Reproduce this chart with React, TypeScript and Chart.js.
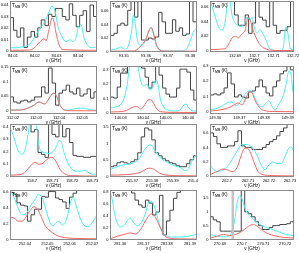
import { useEffect, useRef } from "react";
import { Chart, registerables } from "chart.js";
Chart.register(...registerables);

type P = [number, number];

// ---------- panel 1 ----------
const p1XTicks = [84.01, 84.02, 84.03, 84.04];
const p1YTicks = [0, 0.01, 0.02, 0.03, 0.04];
const p1Obs: P[] = [[84.0086,0.029],[84.0102,0.018],[84.0118,0.012],[84.0134,0.02],[84.015,0.003],[84.0166,0.012],[84.0183,0.017],[84.0199,0.012],[84.0214,0.02],[84.023,0.027],[84.0247,0.022],[84.0263,0.032],[84.0279,0.03],[84.0295,0.037],[84.0311,0.037],[84.0327,0.03],[84.0343,0.027],[84.0359,0.041],[84.0375,0.031],[84.0391,0.021],[84.0407,0.031],[84.0423,0.035],[84.0439,0.017],[84.0455,0.04],[84.0471,0.03],[84.0487,0.03]];
const p1Cyan: P[] = [[84.0086,0.0027],[84.0118,0.0027],[84.0141,0.0035],[84.0165,0.0044],[84.0183,0.0071],[84.0201,0.0124],[84.022,0.0186],[84.0238,0.023],[84.0252,0.0274],[84.0266,0.0345],[84.028,0.039],[84.0294,0.0345],[84.0307,0.0212],[84.0326,0.0124],[84.0344,0.008],[84.0363,0.0097],[84.0377,0.008],[84.039,0.0115],[84.0404,0.0221],[84.0413,0.023],[84.0427,0.0115],[84.0446,0.0044],[84.0464,0.0027],[84.0487,0.0035]];
const p1Red: P[] = [[84.0086,0.0005],[84.017,0.0007],[84.0192,0.0018],[84.0215,0.006],[84.0234,0.0097],[84.0243,0.0106],[84.0252,0.0088],[84.0266,0.0186],[84.028,0.029],[84.0289,0.0257],[84.0298,0.016],[84.0312,0.0053],[84.0331,0.001],[84.0487,0.0005]];

// ---------- panel 2 ----------
const p2XTicks = [93.35, 93.36, 93.37, 93.38];
const p2YTicks = [0, 0.02, 0.04, 0.06];
const p2Obs: P[] = [[93.344,0.024],[93.3456,0.027],[93.3471,0.039],[93.3487,0.042],[93.3502,0.039],[93.3518,0.061],[93.3533,0.08],[93.3549,0.051],[93.3564,0.08],[93.358,0.017],[93.3595,0.017],[93.3611,0.02],[93.3627,0.0185],[93.3642,0.0215],[93.3658,0.058],[93.3673,0.044],[93.3689,0.027],[93.3704,0.027],[93.372,0.047],[93.3735,0.03],[93.3751,0.035],[93.3766,0.024],[93.3782,0.026],[93.3797,0.08],[93.3813,0.044],[93.3831,0.044]];
const p2Cyan: P[] = [[93.344,0.0022],[93.3464,0.0037],[93.3487,0.0067],[93.3504,0.0037],[93.3522,0.0096],[93.3536,0.0318],[93.3544,0.054],[93.3553,0.039],[93.3562,0.017],[93.3576,0.0096],[93.3589,0.011],[93.3602,0.02],[93.3616,0.0318],[93.3624,0.0348],[93.3633,0.027],[93.3647,0.0096],[93.3664,0.0022],[93.3709,0.0007],[93.3753,0.0007],[93.378,0.0022],[93.3793,0.0096],[93.3807,0.022],[93.3816,0.03],[93.3831,0.035]];
const p2Red: P[] = [[93.344,0.0005],[93.354,0.0008],[93.3558,0.0022],[93.3576,0.008],[93.3589,0.0126],[93.3602,0.02],[93.3616,0.033],[93.3624,0.036],[93.3633,0.029],[93.3647,0.011],[93.3664,0.002],[93.3686,0.0006],[93.3831,0.0005]];

// ---------- panel 3 ----------
const p3XTicks = [132.69, 132.7, 132.71, 132.72];
const p3YTicks = [0, 0.02, 0.04, 0.06];
const p3Obs: P[] = [[132.677,0.09],[132.6897,0.049],[132.6916,0.035],[132.6934,0.035],[132.6952,0.049],[132.697,0.024],[132.6988,0.038],[132.7006,0.09],[132.7024,0.046],[132.7042,0.042],[132.7061,0.033],[132.7079,0.09],[132.7097,0.035],[132.7115,0.024],[132.7133,0.028],[132.7151,0.028],[132.7169,0.033],[132.7187,0.09],[132.7205,0.09]];
const p3Cyan: P[] = [[132.677,0.07],[132.6786,0.056],[132.6802,0.042],[132.6817,0.031],[132.6833,0.0286],[132.6848,0.039],[132.6859,0.0626],[132.6864,0.072],[132.6874,0.067],[132.6884,0.049],[132.69,0.038],[132.6916,0.035],[132.6931,0.033],[132.6947,0.037],[132.6962,0.046],[132.6978,0.042],[132.6988,0.046],[132.6998,0.033],[132.7014,0.0245],[132.703,0.0286],[132.7045,0.023],[132.706,0.015],[132.7076,0.004],[132.7092,0.0014],[132.7133,0.0003],[132.7149,0.004],[132.7159,0.0286],[132.7164,0.033],[132.7175,0.0218],[132.7185,0.004],[132.7205,0.0014]];
const p3Red: P[] = [[132.677,0.002],[132.6848,0.003],[132.6864,0.008],[132.6884,0.0177],[132.69,0.02],[132.6916,0.0177],[132.6931,0.022],[132.6952,0.0286],[132.6967,0.046],[132.6978,0.042],[132.6993,0.0286],[132.7014,0.015],[132.7035,0.0068],[132.706,0.0027],[132.7107,0.0007],[132.7205,0.0005]];

// ---------- panel 4 ----------
const p4XTicks = [112.02, 112.03, 112.04, 112.05];
const p4YTicks = [0, 0.05, 0.1, 0.15];
const p4Obs: P[] = [[112.0187,0.048],[112.0202,0.031],[112.0217,0.027],[112.0233,0.034],[112.0248,0.037],[112.0263,0.031],[112.0278,0.037],[112.0294,0.048],[112.0309,0.048],[112.0324,0.082],[112.0339,0.061],[112.0354,0.146],[112.037,0.095],[112.0385,0.02],[112.04,0.061],[112.0415,0.071],[112.0431,0.088],[112.0446,0.065],[112.0461,0.058],[112.0476,0.078],[112.0491,0.051],[112.0507,0.058],[112.0522,0.075],[112.0537,0.044],[112.0552,0.065],[112.0565,0.065]];
const p4Cyan: P[] = [[112.0187,0.0034],[112.023,0.0034],[112.0265,0.01],[112.0291,0.02],[112.0313,0.031],[112.0326,0.027],[112.0339,0.024],[112.0352,0.037],[112.037,0.058],[112.0378,0.061],[112.0391,0.048],[112.0404,0.02],[112.0422,0.0045],[112.0439,0.0034],[112.0461,0.0068],[112.0483,0.01],[112.0504,0.01],[112.0526,0.0068],[112.0544,0.0034],[112.0565,0.0034]];
const p4Red: P[] = [[112.0187,0.0034],[112.023,0.0034],[112.0265,0.01],[112.0291,0.02],[112.0313,0.031],[112.0326,0.027],[112.0339,0.024],[112.0352,0.037],[112.037,0.058],[112.0378,0.061],[112.0391,0.048],[112.0404,0.02],[112.0422,0.0034],[112.0448,0.001],[112.0565,0.001]];

// ---------- panel 5 ----------
const p5XTicks = [140.03, 140.04, 140.05, 140.06];
const p5YTicks = [0, 0.1, 0.2, 0.3];
const p5Obs: P[] = [[140.0253,0.11],[140.0269,0.103],[140.0285,0.18],[140.03,0.278],[140.0316,0.278],[140.0331,0.4],[140.0347,0.4],[140.0362,0.4],[140.0378,0.4],[140.0393,0.313],[140.0409,0.25],[140.0424,0.173],[140.044,0.215],[140.0456,0.4],[140.0471,0.264],[140.0487,0.173],[140.0502,0.131],[140.0518,0.11],[140.0533,0.11],[140.0549,0.173],[140.0564,0.306],[140.058,0.306],[140.0595,0.285],[140.0611,0.159],[140.0626,0.089],[140.064,0.089]];
const p5Cyan: P[] = [[140.0253,0.033],[140.0276,0.04],[140.0298,0.054],[140.0316,0.103],[140.0329,0.194],[140.0338,0.3],[140.0345,0.38],[140.037,0.38],[140.0382,0.285],[140.0391,0.215],[140.0404,0.187],[140.0418,0.2],[140.0431,0.159],[140.0444,0.18],[140.0458,0.229],[140.0467,0.194],[140.0476,0.103],[140.0489,0.047],[140.0511,0.019],[140.0542,0.012],[140.0564,0.019],[140.0582,0.054],[140.0591,0.061],[140.0604,0.033],[140.0622,0.012],[140.064,0.012]];
const p5Red: P[] = [[140.0253,0.005],[140.032,0.012],[140.0347,0.033],[140.0364,0.043],[140.0378,0.04],[140.0391,0.026],[140.0404,0.047],[140.0422,0.089],[140.0431,0.092],[140.0444,0.075],[140.0458,0.033],[140.0476,0.008],[140.052,0.003],[140.064,0.0015]];

// ---------- panel 6 ----------
const p6XTicks = [149.36, 149.37, 149.38, 149.39];
const p6YTicks = [0, 0.1, 0.2, 0.3];
const p6Obs: P[] = [[149.3579,0.111],[149.3594,0.118],[149.3608,0.111],[149.3623,0.124],[149.3637,0.157],[149.3651,0.255],[149.3666,0.183],[149.368,0.098],[149.3695,0.111],[149.3709,0.098],[149.3723,0.092],[149.3738,0.131],[149.3752,0.137],[149.3766,0.164],[149.3781,0.209],[149.3795,0.164],[149.381,0.124],[149.3824,0.105],[149.3838,0.164],[149.3853,0.203],[149.3867,0.249],[149.3882,0.268],[149.3896,0.31],[149.391,0.275],[149.3925,0.275]];
const p6Cyan: P[] = [[149.3579,0.013],[149.36,0.02],[149.362,0.033],[149.3641,0.052],[149.3658,0.065],[149.367,0.065],[149.3686,0.039],[149.3703,0.065],[149.3719,0.105],[149.3736,0.137],[149.3748,0.137],[149.376,0.105],[149.3777,0.052],[149.3793,0.033],[149.381,0.059],[149.3822,0.072],[149.3834,0.039],[149.3847,0.013],[149.3863,0.052],[149.388,0.105],[149.3892,0.177],[149.3904,0.268],[149.3912,0.249],[149.392,0.144],[149.3925,0.111]];
const p6Red: P[] = [[149.3579,0.0065],[149.362,0.013],[149.3653,0.026],[149.3678,0.046],[149.3695,0.059],[149.3711,0.046],[149.3727,0.092],[149.374,0.131],[149.3752,0.124],[149.3764,0.078],[149.3781,0.033],[149.3801,0.01],[149.3847,0.003],[149.3925,0.002]];

// ---------- panel 7 ----------
const p7XTicks = [158.7, 158.71, 158.72, 158.73];
const p7YTicks = [0, 0.1, 0.2, 0.3, 0.4];
const p7Obs: P[] = [[158.689,0.5],[158.6995,0.36],[158.7013,0.38],[158.703,0.194],[158.7048,0.178],[158.7065,0.154],[158.7083,0.5],[158.71,0.34],[158.7118,0.32],[158.7135,0.5],[158.7153,0.32],[158.717,0.386],[158.7188,0.274],[158.7205,0.17],[158.7223,0.162],[158.724,0.162],[158.7258,0.154],[158.7275,0.154],[158.7293,0.162],[158.731,0.162],[158.7325,0.162]];
const p7Cyan: P[] = [[158.689,0.394],[158.6905,0.338],[158.692,0.258],[158.6935,0.194],[158.695,0.178],[158.6965,0.218],[158.698,0.338],[158.699,0.45],[158.702,0.45],[158.703,0.298],[158.704,0.218],[158.706,0.194],[158.708,0.186],[158.71,0.194],[158.712,0.234],[158.7135,0.29],[158.7145,0.282],[158.716,0.194],[158.718,0.106],[158.72,0.058],[158.722,0.042],[158.724,0.042],[158.7265,0.05],[158.728,0.034],[158.73,0.018],[158.7325,0.018]];
const p7Red: P[] = [[158.689,0.01],[158.694,0.014],[158.697,0.042],[158.6995,0.09],[158.7015,0.114],[158.7035,0.098],[158.7055,0.106],[158.7075,0.138],[158.71,0.154],[158.712,0.122],[158.714,0.058],[158.7165,0.018],[158.72,0.006],[158.7325,0.002]];

// ---------- panel 8 ----------
const p8XTicks = [255.37, 255.38, 255.39, 255.4];
const p8YTicks = [0, 0.5, 1, 1.5];
const p8Obs: P[] = [[255.3593,0.3],[255.361,0.33],[255.3627,0.42],[255.3644,0.45],[255.3661,0.42],[255.3678,0.39],[255.3695,0.45],[255.3712,0.51],[255.3729,0.72],[255.3746,1.2],[255.3763,1.47],[255.3781,1.41],[255.3798,1.11],[255.3815,0.72],[255.3832,0.63],[255.3849,0.54],[255.3866,0.48],[255.3883,0.42],[255.39,0.39],[255.3917,0.33],[255.3934,0.3],[255.3951,0.3],[255.3968,0.39],[255.3985,0.51],[255.4003,0.63],[255.402,0.63]];
const p8Cyan: P[] = [[255.3593,0.21],[255.3627,0.3],[255.3661,0.36],[255.369,0.39],[255.372,0.45],[255.3739,0.57],[255.3759,0.78],[255.3778,0.93],[255.3793,0.96],[255.3807,0.87],[255.3827,0.66],[255.3846,0.54],[255.3876,0.42],[255.391,0.33],[255.3939,0.27],[255.3963,0.18],[255.3978,0.24],[255.3998,0.51],[255.402,0.69]];
const p8Red: P[] = [[255.3593,0.045],[255.3666,0.06],[255.3715,0.09],[255.3749,0.15],[255.3773,0.24],[255.3793,0.255],[255.3812,0.21],[255.3837,0.105],[255.3871,0.045],[255.3934,0.03],[255.402,0.024]];

// ---------- panel 9 ----------
const p9XTicks = [262.7, 262.71, 262.72, 262.73];
const p9YTicks = [0, 0.2, 0.4, 0.6];
const p9Obs: P[] = [[262.6919,0.6],[262.6936,0.55],[262.6952,0.45],[262.6969,0.4],[262.6986,0.4],[262.7002,0.42],[262.7019,0.42],[262.7036,0.48],[262.7052,0.63],[262.7069,0.42],[262.7086,0.4],[262.7102,0.4],[262.7119,0.37],[262.7136,0.37],[262.7152,0.37],[262.7169,0.4],[262.7186,0.44],[262.7202,0.48],[262.7219,0.51],[262.7236,0.56],[262.7252,0.62],[262.7269,0.67],[262.7286,0.73],[262.7302,0.75],[262.7319,0.75]];
const p9Cyan: P[] = [[262.6919,0.16],[262.6938,0.09],[262.6957,0.065],[262.6976,0.08],[262.7,0.13],[262.7024,0.23],[262.7048,0.35],[262.7071,0.44],[262.7095,0.44],[262.7119,0.4],[262.7143,0.29],[262.7162,0.16],[262.7181,0.09],[262.72,0.16],[262.7219,0.2],[262.7238,0.175],[262.7257,0.175],[262.7276,0.27],[262.729,0.37],[262.7305,0.41],[262.7319,0.34]];
const p9Red: P[] = [[262.6919,0.023],[262.6952,0.065],[262.6981,0.1],[262.7,0.09],[262.7024,0.065],[262.7048,0.12],[262.7067,0.285],[262.7081,0.38],[262.7095,0.39],[262.711,0.34],[262.7129,0.19],[262.7148,0.065],[262.7171,0.023],[262.7214,0.01],[262.7319,0.005]];

// ---------- panel 10 ----------
const p10XTicks = [252.04, 252.05, 252.06, 252.07];
const p10YTicks = [0, 0.2, 0.4, 0.6];
const p10Obs: P[] = [[252.0333,0.59],[252.0348,0.57],[252.0364,0.46],[252.038,0.43],[252.0396,0.42],[252.0411,0.23],[252.0427,0.31],[252.0443,0.38],[252.0458,0.38],[252.0474,0.54],[252.049,0.53],[252.0505,0.6],[252.0521,0.6],[252.0537,0.52],[252.0552,0.5],[252.0568,0.47],[252.0584,0.39],[252.0599,0.53],[252.0615,0.58],[252.0631,0.64],[252.0646,0.64],[252.0662,0.65],[252.0678,0.64],[252.0693,0.64],[252.0709,0.64],[252.0722,0.64]];
const p10Cyan: P[] = [[252.0333,0.62],[252.0346,0.56],[252.0364,0.43],[252.0378,0.34],[252.0391,0.31],[252.0409,0.34],[252.0427,0.43],[252.0445,0.5],[252.0458,0.56],[252.0476,0.53],[252.0494,0.37],[252.0512,0.21],[252.0525,0.17],[252.0539,0.21],[252.0552,0.23],[252.0566,0.18],[252.058,0.21],[252.0593,0.33],[252.0606,0.49],[252.0615,0.53],[252.0628,0.43],[252.0646,0.27],[252.0664,0.18],[252.0682,0.16],[252.07,0.21],[252.0722,0.31]];
const p10Red: P[] = [[252.0333,0.28],[252.0351,0.27],[252.0369,0.23],[252.0387,0.23],[252.0404,0.28],[252.0422,0.36],[252.044,0.41],[252.0454,0.39],[252.0472,0.29],[252.0489,0.18],[252.0512,0.11],[252.0539,0.056],[252.0575,0.025],[252.0646,0.0125],[252.0722,0.009]];

// ---------- panel 11 ----------
const p11XTicks = [281.36, 281.37, 281.38, 281.39];
const p11YTicks = [0, 0.2, 0.4, 0.6, 0.8];
const p11Obs: P[] = [[281.3557,1.0],[281.3649,0.78],[281.3664,0.66],[281.3679,0.58],[281.3694,0.54],[281.3709,0.66],[281.3724,0.61],[281.3739,0.41],[281.3754,0.46],[281.3769,0.74],[281.3784,0.075],[281.3799,0.31],[281.3814,0.49],[281.3829,0.69],[281.3844,0.79],[281.3859,1.0],[281.393,1.0]];
const p11Cyan: P[] = [[281.3557,0.81],[281.3567,0.66],[281.3576,0.44],[281.3588,0.28],[281.3601,0.21],[281.3618,0.24],[281.3636,0.34],[281.3644,0.36],[281.3657,0.29],[281.3674,0.23],[281.3691,0.28],[281.3709,0.44],[281.3721,0.61],[281.3734,0.64],[281.3747,0.56],[281.376,0.38],[281.3777,0.16],[281.3794,0.075],[281.3816,0.04],[281.3859,0.04],[281.3902,0.06],[281.393,0.09]];
const p11Red: P[] = [[281.3557,0.01],[281.3593,0.06],[281.3623,0.09],[281.3644,0.11],[281.3666,0.09],[281.3687,0.16],[281.3709,0.31],[281.3726,0.41],[281.3739,0.43],[281.3751,0.38],[281.3769,0.23],[281.3786,0.09],[281.3807,0.025],[281.3859,0.008],[281.393,0.005]];

// ---------- panel 12 ----------
const p12XTicks = [270.69, 270.7, 270.71, 270.72];
const p12YTicks = [0, 0.5, 1, 1.5];
const p12Obs: P[] = [[270.6852,0.82],[270.6869,0.71],[270.6885,0.64],[270.6901,0.3],[270.6917,0.3],[270.6933,0.3],[270.6949,0.3],[270.6965,0.3],[270.6982,0.3],[270.6998,2.0],[270.7014,1.0],[270.703,0.93],[270.7046,0.82],[270.7062,0.64],[270.7078,0.5],[270.7095,0.36],[270.7111,0.36],[270.7127,0.43],[270.7143,0.5],[270.7159,0.5],[270.7175,0.54],[270.7191,0.54],[270.7207,0.57],[270.7224,0.64],[270.724,0.64]];
const p12Cyan: P[] = [[270.6854,0.18],[270.6889,0.11],[270.6917,0.09],[270.6945,0.14],[270.6958,0.36],[270.6968,0.71],[270.6977,1.25],[270.6986,1.54],[270.6995,1.57],[270.7005,1.39],[270.7018,1.07],[270.7037,0.86],[270.706,0.68],[270.7092,0.5],[270.7129,0.39],[270.7166,0.29],[270.7203,0.18],[270.7241,0.14]];
const p12Red: P[] = [[270.6854,0.05],[270.6889,0.125],[270.6917,0.18],[270.6945,0.14],[270.6972,0.18],[270.7,0.29],[270.7023,0.43],[270.7041,0.52],[270.7055,0.54],[270.7074,0.46],[270.7097,0.32],[270.712,0.21],[270.7157,0.125],[270.7198,0.07],[270.7241,0.05]];
const p12Marker = [270.6959];

// axis ranges [xmin, xmax, ymin, ymax]
const ranges: number[][] = [
  [84.0086, 84.0487, -0.001, 0.0435],
  [93.3438, 93.3831, -0.0007, 0.0748],
  [132.677, 132.7205, -0.0014, 0.068],
  [112.0187, 112.0565, -0.01, 0.153],
  [140.0253, 140.064, -0.009, 0.328],
  [149.3579, 149.3925, -0.013, 0.3],
  [158.689, 158.7325, -0.005, 0.424],
  [255.3593, 255.402, -0.01, 1.59],
  [262.6919, 262.7319, -0.01, 0.724],
  [252.0333, 252.0722, -0.006, 0.62],
  [281.3557, 281.393, -0.01, 0.83],
  [270.6854, 270.7241, -0.02, 1.79],
];

const panelData = [
  { xt: p1XTicks, yt: p1YTicks, obs: p1Obs, cyan: p1Cyan, red: p1Red, marker: [] as number[] },
  { xt: p2XTicks, yt: p2YTicks, obs: p2Obs, cyan: p2Cyan, red: p2Red, marker: [] as number[] },
  { xt: p3XTicks, yt: p3YTicks, obs: p3Obs, cyan: p3Cyan, red: p3Red, marker: [] as number[] },
  { xt: p4XTicks, yt: p4YTicks, obs: p4Obs, cyan: p4Cyan, red: p4Red, marker: [] as number[] },
  { xt: p5XTicks, yt: p5YTicks, obs: p5Obs, cyan: p5Cyan, red: p5Red, marker: [] as number[] },
  { xt: p6XTicks, yt: p6YTicks, obs: p6Obs, cyan: p6Cyan, red: p6Red, marker: [] as number[] },
  { xt: p7XTicks, yt: p7YTicks, obs: p7Obs, cyan: p7Cyan, red: p7Red, marker: [] as number[] },
  { xt: p8XTicks, yt: p8YTicks, obs: p8Obs, cyan: p8Cyan, red: p8Red, marker: [] as number[] },
  { xt: p9XTicks, yt: p9YTicks, obs: p9Obs, cyan: p9Cyan, red: p9Red, marker: [] as number[] },
  { xt: p10XTicks, yt: p10YTicks, obs: p10Obs, cyan: p10Cyan, red: p10Red, marker: [] as number[] },
  { xt: p11XTicks, yt: p11YTicks, obs: p11Obs, cyan: p11Cyan, red: p11Red, marker: [] as number[] },
  { xt: p12XTicks, yt: p12YTicks, obs: p12Obs, cyan: p12Cyan, red: p12Red, marker: p12Marker },
];

// layout (pixels)
const W = 299;
const H = 253;
const colLeft = [10, 110, 210];
const colRight = [97, 197, 294];
const rowTop = [1, 66, 124, 190];
const rowBottom = [52, 114, 177, 240];
const Y_AXIS_W = 11;
const X_AXIS_H = 11;
const FONT = "'Liberation Sans', Arial, sans-serif";

const framePlugin = {
  id: "frame",
  afterDatasetsDraw(chart: any) {
    const { ctx, chartArea: a } = chart;
    ctx.save();
    ctx.strokeStyle = "#8a8a8a";
    ctx.lineWidth = 1;
    ctx.strokeRect(Math.round(a.left) + 0.5, Math.round(a.top) + 0.5, Math.round(a.right - a.left) - 1, Math.round(a.bottom - a.top) - 1);
    ctx.fillStyle = "#000";
    ctx.textBaseline = "alphabetic";
    ctx.font = `5px ${FONT}`;
    const x0 = a.left + 2;
    const y0 = a.top + 6;
    ctx.fillText("T", x0, y0);
    const tw = ctx.measureText("T").width;
    ctx.font = `3.5px ${FONT}`;
    ctx.fillText("MB", x0 + tw, y0 + 1);
    const sw = ctx.measureText("MB").width;
    ctx.font = `4.5px ${FONT}`;
    ctx.fillText(" (K)", x0 + tw + sw, y0);
    ctx.restore();
  },
};

function Panel({ idx }: { idx: number }) {
  const ref = useRef<HTMLCanvasElement | null>(null);
  useEffect(() => {
    const c = ref.current;
    if (!c) return;
    const d = panelData[idx];
    const r = ranges[idx];
    const col = idx % 3;
    const row = Math.floor(idx / 3);
    const left = colLeft[col];
    const right = colRight[col];
    const top = rowTop[row];
    const bottom = rowBottom[row];
    const toXY = (arr: P[]) => arr.map(([x, y]) => ({ x, y }));
    const datasets: any[] = [];
    d.marker.forEach((m) => {
      datasets.push({
        data: [{ x: m, y: r[2] }, { x: m, y: r[3] }],
        borderColor: "#c4c4c4",
        borderWidth: 2.5,
        pointRadius: 0,
      });
    });
    datasets.push(
      { data: toXY(d.red), borderColor: "#ff6464", borderWidth: 1, pointRadius: 0, cubicInterpolationMode: "monotone" },
      { data: toXY(d.cyan), borderColor: "#45f3f3", borderWidth: 1, pointRadius: 0, cubicInterpolationMode: "monotone" },
      { data: toXY(d.obs), borderColor: "#444444", borderWidth: 1, pointRadius: 0, stepped: true }
    );
    const chart = new Chart(c, {
      type: "line",
      data: { datasets },
      options: {
        animation: false,
        responsive: false,
        events: [],
        layout: {
          padding: {
            left: left - Y_AXIS_W,
            top: top,
            right: W - right,
            bottom: H - bottom - X_AXIS_H,
          },
        },
        plugins: { legend: { display: false }, tooltip: { enabled: false }, title: { display: false } },
        scales: {
          x: {
            type: "linear",
            min: r[0],
            max: r[1],
            afterBuildTicks: (s: any) => {
              s.ticks = d.xt.map((v) => ({ value: v }));
            },
            afterFit: (s: any) => {
              s.height = X_AXIS_H;
              s.paddingLeft = 0;
              s.paddingRight = 0;
            },
            ticks: {
              autoSkip: false,
              maxRotation: 0,
              minRotation: 0,
              padding: 1.5,
              color: "#000",
              font: { size: 4, family: FONT },
              callback: (v: any) => String(v),
            },
            grid: { display: false, drawTicks: false },
            border: { display: false },
            title: { display: true, text: "ν (GHz)", color: "#000", font: { size: 4.5, family: FONT }, padding: 0 },
          },
          y: {
            type: "linear",
            min: r[2],
            max: r[3],
            afterBuildTicks: (s: any) => {
              s.ticks = d.yt.map((v) => ({ value: v }));
            },
            afterFit: (s: any) => {
              s.width = Y_AXIS_W;
              s.paddingTop = 0;
              s.paddingBottom = 0;
            },
            ticks: {
              autoSkip: false,
              padding: 1.5,
              color: "#000",
              font: { size: 4, family: FONT },
              callback: (v: any) => String(v),
            },
            grid: { display: false, drawTicks: false },
            border: { display: false },
          },
        },
      },
      plugins: [framePlugin],
    });
    return () => chart.destroy();
  }, [idx]);
  return (
    <canvas
      ref={ref}
      width={W}
      height={H}
      style={{ position: "absolute", left: 0, top: 0, width: W, height: H }}
    />
  );
}

export default function App() {
  return (
    <div style={{ position: "fixed", left: 0, top: 0, width: W, height: H, background: "#fff", overflow: "hidden" }}>
      {panelData.map((_, i) => (
        <Panel key={i} idx={i} />
      ))}
    </div>
  );
}
